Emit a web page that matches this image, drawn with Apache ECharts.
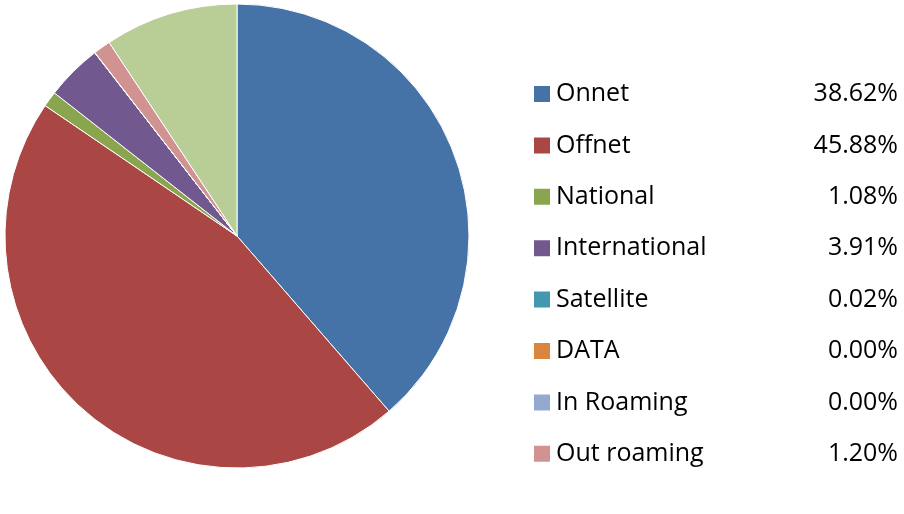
<!DOCTYPE html>
<html>
<head>
<meta charset="utf-8">
<script src="https://cdn.jsdelivr.net/npm/echarts@6/dist/echarts.min.js"></script>
<style>html,body{margin:0;background:#fff}#c{width:904px;height:514px}</style>
</head>
<body>
<div id="c"></div>
<script>
let categories = ['Onnet', 'Offnet', 'National', 'International', 'Satellite', 'DATA', 'In Roaming', 'Out roaming', 'others'];
let values = [38.62, 45.88, 1.08, 3.91, 0.02, 0.00, 0.00, 1.20, 9.29];
let colors = ['#4572A7', '#AA4643', '#89A54E', '#71588F', '#4198AF', '#DB843D', '#93A9CF', '#D19392', '#B9CD96'];

let chart = echarts.init(document.getElementById('c'));
let data = categories.map((name, i) => ({ name: name, value: values[i] }));

chart.setOption({
	color: colors,
	animation: false,
	legend: {
		orient: 'vertical',
		left: 527,
		top: 74,
		itemWidth: 18,
		itemHeight: 18,
		itemGap: 21.4,
		icon: 'rect',
		selectedMode: false,
		formatter: (name) => {
			let i = categories.indexOf(name);
			return `{n|${name}}{v|${values[i].toFixed(2)}%}`;
		},
		textStyle: {
			fontFamily: 'Open Sans',
			fontSize: 25,
			color: '#000',
			lineHeight: 30,
			rich: {
				n: { width: 240, fontSize: 25, fontFamily: 'Open Sans', color: '#000' },
				v: { width: 102, align: 'right', fontSize: 25, fontFamily: 'Open Sans', color: '#000' },
			},
		},
	},
	series: [
		{
			type: 'pie',
			center: [237, 236],
			radius: [0, 232],
			startAngle: 90,
			clockwise: true,
			label: { show: false },
			labelLine: { show: false },
			itemStyle: { borderColor: '#fff', borderWidth: 1 },
			data: data,
		},
	],
});
</script>
</body>
</html>
